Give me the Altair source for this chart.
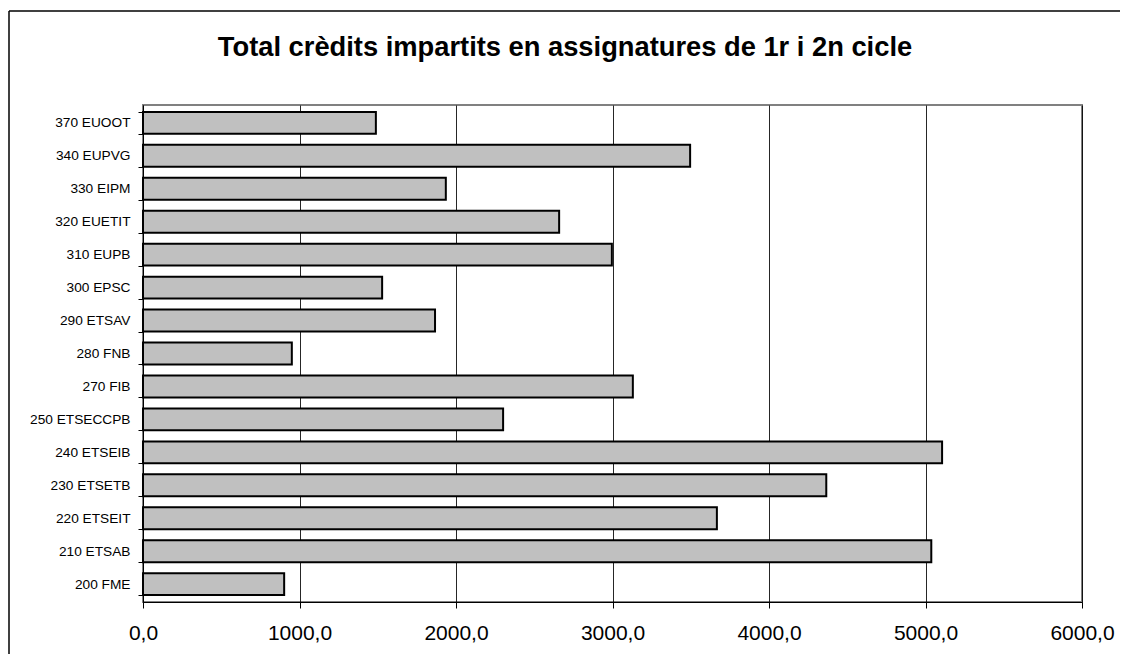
import altair as alt
import pandas as pd

categories = ["370 EUOOT", "340 EUPVG", "330 EIPM", "320 EUETIT", "310 EUPB",
              "300 EPSC", "290 ETSAV", "280 FNB", "270 FIB", "250 ETSECCPB",
              "240 ETSEIB", "230 ETSETB", "220 ETSEIT", "210 ETSAB", "200 FME"]
credits = [1488, 3496, 1935, 2659, 2996,
           1528, 1866, 951, 3130, 2301,
           5106, 4366, 3667, 5037, 902]
title_text = "Total crèdits impartits en assignatures de 1r i 2n cicle"
x_ticks = [0, 1000, 2000, 3000, 4000, 5000, 6000]

df = pd.DataFrame({"escola": categories, "credits": credits})
one = alt.Data(values=[{"t": title_text}])

FONT = "Liberation Sans"

bars = alt.Chart(df).mark_bar(fill="#C0C0C0", stroke="#000000", strokeWidth=2).encode(
    y=alt.Y("escola:N", sort=categories, title=None,
            scale=alt.Scale(paddingInner=0.335, paddingOuter=0.21),
            axis=alt.Axis(labelFont=FONT, labelFontSize=13.7, labelColor="#000000",
                          tickBand="extent", tickSize=5, tickColor="#000000",
                          domainColor="#000000", labelPadding=8, grid=False)),
    x=alt.X("credits:Q", title=None,
            scale=alt.Scale(domain=[0, 6000], nice=False),
            axis=alt.Axis(values=x_ticks,
                          labelExpr="replace(format(datum.value, '.1f'), '.', ',')",
                          labelFontSize=21, labelFont=FONT, labelColor="#000000",
                          tickSize=6, labelPadding=14, gridColor="#000000", gridWidth=1,
                          gridOpacity=0.85, domainColor="#000000", tickColor="#000000",
                          labelFlush=False)),
)

frame_top = alt.Chart(one).mark_rule(stroke="#000000", strokeWidth=1.5).encode(
    x=alt.value(-134), x2=alt.value(985), y=alt.value(-94)
)
frame_left = alt.Chart(one).mark_rule(stroke="#000000", strokeWidth=1.5).encode(
    x=alt.value(-134), y=alt.value(-94), y2=alt.value(560)
)

title = alt.Chart(one).mark_text(font=FONT, fontSize=27.3, fontWeight="bold", color="#000000",
                                 baseline="middle", align="center").encode(
    x=alt.value(422), y=alt.value(-57), text="t:N"
)

chart = alt.layer(frame_top, frame_left, bars, title).properties(
    width=939, height=497,
    autosize=alt.AutoSizeParams(type="none"),
    padding={"left": 135, "top": 97, "right": 38, "bottom": 52},
).configure_view(stroke="#808080", strokeWidth=2)

chart.save("out.html", embed_options={"renderer": "svg", "actions": False})
